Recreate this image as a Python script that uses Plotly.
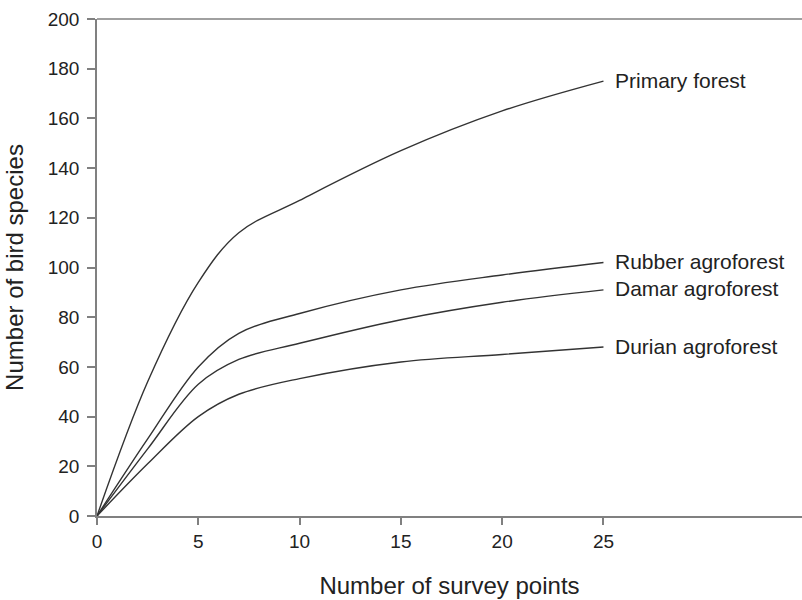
import plotly.graph_objects as go

# Survey points (x) and species counts (y)
x_primary = [0, 2.5, 5, 7, 10, 15, 20, 25]
y_primary = [0, 54, 94, 114, 127, 147, 163, 175]

x_rubber = [0, 2.5, 5, 7, 10, 15, 20, 25]
y_rubber = [0, 31, 60, 73.5, 81.5, 91, 97, 102]

x_damar = [0, 2.5, 5, 7, 10, 15, 20, 25]
y_damar = [0, 27, 53, 63, 69.5, 79, 86, 91]

x_durian = [0, 2.5, 5, 7, 10, 15, 20, 25]
y_durian = [0, 21, 40, 49, 55.3, 62, 65, 68]

series_names = ["Primary forest", "Rubber agroforest", "Damar agroforest", "Durian agroforest"]
series_x = [x_primary, x_rubber, x_damar, x_durian]
series_y = [y_primary, y_rubber, y_damar, y_durian]

x_ticks = [0, 5, 10, 15, 20, 25]
y_ticks = [0, 20, 40, 60, 80, 100, 120, 140, 160, 180, 200]

FONT = "Liberation Sans, Arial, sans-serif"
TXT = "#222222"
AXIS = "#808080"

fig = go.Figure()
for name, xs, ys in zip(series_names, series_x, series_y):
    fig.add_trace(go.Scatter(
        x=xs, y=ys, mode="lines", name=name,
        line=dict(color="#333333", width=1.4, shape="spline", smoothing=1.0),
        showlegend=False, hoverinfo="skip",
    ))
    fig.add_annotation(
        x=xs[-1], y=ys[-1], text=name, showarrow=False,
        xanchor="left", yanchor="middle", xshift=10, yshift=1,
        font=dict(family=FONT, size=21, color=TXT),
    )

fig.add_shape(type="line", xref="paper", yref="paper", x0=0, x1=1, y0=1, y1=1,
              line=dict(color=AXIS, width=1.5))

fig.update_layout(
    width=802, height=600,
    margin=dict(l=97, r=0, t=19, b=84, autoexpand=False),
    paper_bgcolor="white", plot_bgcolor="white",
    font=dict(family=FONT, size=19, color=TXT),
    xaxis=dict(
        range=[0, 34.8], tickvals=x_ticks, ticks="outside", ticklen=7,
        tickcolor=AXIS, tickwidth=1.5, showline=True, linecolor=AXIS, linewidth=1.5,
        showgrid=False, zeroline=False, automargin=False,
        title=dict(text="Number of survey points", font=dict(size=24), standoff=27),
        tickfont=dict(size=19),
    ),
    yaxis=dict(
        range=[0, 200], tickvals=y_ticks, ticks="outside", ticklen=8,
        tickcolor=AXIS, tickwidth=1.5, showline=True, linecolor=AXIS, linewidth=1.5,
        showgrid=False, zeroline=False, ticklabelstandoff=4, automargin=False,
        title=dict(text="Number of bird species", font=dict(size=24), standoff=17),
        tickfont=dict(size=19),
    ),
)

fig.write_html(
    "out.html",
    config={"displayModeBar": False},
    post_script="document.body.style.margin='0';document.body.style.overflow='hidden';",
)
